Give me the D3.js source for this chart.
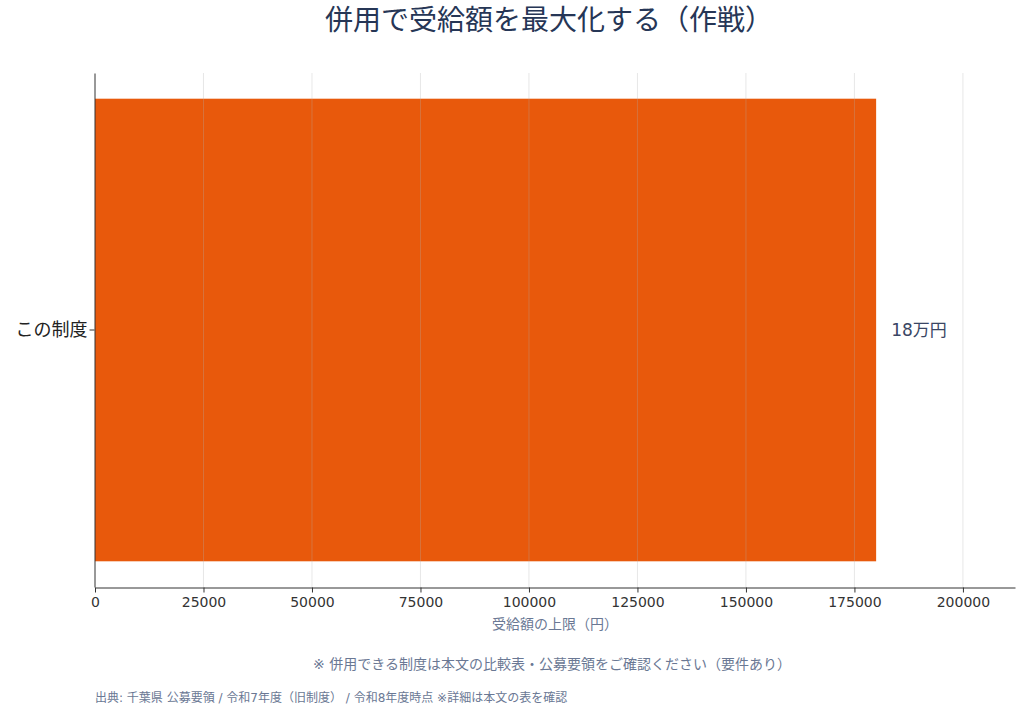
<!DOCTYPE html>
<html>
<head>
<meta charset="utf-8">
<script src="https://cdn.jsdelivr.net/npm/d3@7"></script>
<style>
  body { margin: 0; background: #fff; }
  svg text { font-family: "DejaVu Sans", "Noto Sans CJK JP", sans-serif; }
</style>
</head>
<body>
<div id="chart"></div>
<script>
// data
const categories = ["この制度"];
const values = [180000];
const valueLabels = ["18万円"];
const xTicks = [0, 25000, 50000, 75000, 100000, 125000, 150000, 175000, 200000];
const xMax = 212000;

const titleText = "併用で受給額を最大化する（作戦）";
const xLabelText = "受給額の上限（円）";
const noteText = "※ 併用できる制度は本文の比較表・公募要領をご確認ください（要件あり）";
const sourceText = "出典: 千葉県 公募要領 / 令和7年度（旧制度） / 令和8年度時点 ※詳細は本文の表を確認";

let w = 1024, h = 712;
let margin = { top: 73, right: 9, bottom: 125, left: 95 };

let svg = d3.select("#chart").append("svg").attr("width", w).attr("height", h);

let x = d3.scaleLinear().domain([0, xMax]).range([margin.left, w - margin.right]);
let y = d3.scaleBand().domain(categories).range([margin.top, h - margin.bottom]).paddingInner(0.1).paddingOuter(0.05);

// bars
svg.selectAll(".bar")
  .data(values)
  .enter()
  .append("rect")
  .attr("class", "bar")
  .attr("x", x(0))
  .attr("y", function (d, i) { return y(categories[i]); })
  .attr("width", function (d) { return x(d) - x(0); })
  .attr("height", y.bandwidth())
  .attr("fill", "#e8590c");

// grid on top of bar (faint)
svg.append("g")
  .selectAll("line")
  .data(xTicks.slice(1))
  .enter()
  .append("line")
  .attr("x1", function (d) { return x(d); })
  .attr("x2", function (d) { return x(d); })
  .attr("y1", margin.top)
  .attr("y2", h - margin.bottom)
  .attr("stroke", "#b0b0b0")
  .attr("stroke-opacity", 0.3)
  .attr("stroke-width", 1);

// value labels
svg.selectAll(".vlabel")
  .data(values)
  .enter()
  .append("text")
  .attr("x", function (d) { return x(d) + 15; })
  .attr("y", function (d, i) { return y(categories[i]) + y.bandwidth() / 2; })
  .attr("dy", "0.35em")
  .attr("font-size", 17)
  .attr("fill", "#3a4664")
  .text(function (d, i) { return valueLabels[i]; });

// x axis
let xAxis = svg.append("g")
  .attr("transform", "translate(0," + (h - margin.bottom + 0.5) + ")")
  .call(d3.axisBottom(x).tickValues(xTicks).tickFormat(d3.format("d")).tickSize(5).tickSizeOuter(0));
xAxis.select(".domain").attr("stroke", "#333");
xAxis.selectAll(".tick line").attr("stroke", "#333");
xAxis.selectAll(".tick text").attr("font-size", 14).attr("fill", "#333").attr("dy", "0.85em");

// y axis
let yAxis = svg.append("g")
  .attr("transform", "translate(" + (margin.left - 0.5) + ",0)")
  .call(d3.axisLeft(y).tickSize(5).tickSizeOuter(0));
yAxis.select(".domain").attr("stroke", "#333");
yAxis.selectAll(".tick line").attr("stroke", "#333");
yAxis.selectAll(".tick text").attr("font-size", 18).attr("fill", "#222").attr("x", -7);

// title
svg.append("text")
  .attr("x", 549)
  .attr("y", 30)
  .attr("text-anchor", "middle")
  .attr("font-size", 28)
  .attr("fill", "#263656")
  .text(titleText);

// x label
svg.append("text")
  .attr("x", (margin.left + w - margin.right) / 2)
  .attr("y", 629)
  .attr("text-anchor", "middle")
  .attr("font-size", 14)
  .attr("fill", "#6a7894")
  .text(xLabelText);

// note
svg.append("text")
  .attr("x", 552)
  .attr("y", 669)
  .attr("text-anchor", "middle")
  .attr("font-size", 14)
  .attr("fill", "#6a7894")
  .text(noteText);

// source
svg.append("text")
  .attr("x", 95)
  .attr("y", 702)
  .attr("font-size", 12)
  .attr("fill", "#6a7894")
  .text(sourceText);
</script>
</body>
</html>
